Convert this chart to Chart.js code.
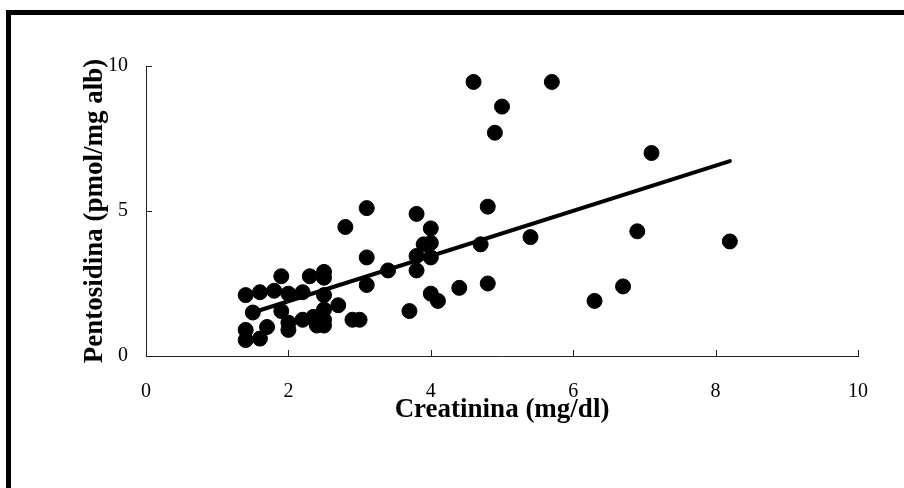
<!DOCTYPE html>
<html>
<head>
<meta charset="utf-8">
<script src="https://cdn.jsdelivr.net/npm/chart.js@4/dist/chart.umd.min.js"></script>
<style>
  html, body { margin: 0; padding: 0; background: #fff; overflow: hidden; }
  #frame { position: absolute; left: 6px; top: 10px; width: 1000px; height: 1000px; border: 5px solid #000; }
  #wrap { position: absolute; left: 0; top: 0; width: 904px; height: 488px; }
</style>
</head>
<body>
<div id="frame"></div>
<div id="wrap"><canvas id="chart" width="904" height="488"></canvas></div>
<script>
// creatinina (mg/dl) vs pentosidina (pmol/mg alb)
const creat = [1.4, 1.6, 1.5, 1.4, 1.4, 1.6, 1.7, 1.8, 1.9, 1.9, 2.0, 2.0, 2.0, 2.2, 2.2, 2.3, 2.35, 2.4,
  2.5, 2.5, 2.5, 2.5, 2.5, 2.5, 2.7, 2.8, 2.9, 3.0, 3.1, 3.1, 3.1, 3.4, 3.7, 3.8, 3.8, 3.8, 3.9, 4.0,
  4.0, 4.0, 4.0, 4.1, 4.4, 4.6, 4.7, 4.8, 4.8, 4.9, 5.0, 5.4, 5.7, 6.3, 6.7, 6.9, 7.1, 8.2];
const pento = [2.1, 2.2, 1.5, 0.9, 0.55, 0.6, 1.0, 2.25, 2.75, 1.55, 2.15, 1.15, 0.9, 2.2, 1.25, 2.75, 1.35, 1.05,
  2.9, 2.7, 2.1, 1.6, 1.25, 1.05, 1.75, 4.45, 1.25, 1.25, 5.1, 3.4, 2.45, 2.95, 1.55, 4.9, 3.45, 2.95, 3.85, 4.4,
  3.9, 3.4, 2.15, 1.9, 2.35, 9.45, 3.85, 5.15, 2.5, 7.7, 8.6, 4.1, 9.45, 1.9, 2.4, 4.3, 7.0, 3.95];
const trendX = [1.5, 8.2];
const trendY = [1.5, 6.72];
const xTicks = [0, 2, 4, 6, 8, 10];
const yTicks = [0, 5, 10];

const serif = '"Liberation Serif", "Times New Roman", serif';

const innerTicks = {
  id: 'innerTicks',
  afterDraw(chart) {
    const { ctx, scales: { x, y } } = chart;
    ctx.save();
    ctx.strokeStyle = '#222';
    ctx.lineWidth = 1;
    ctx.beginPath();
    xTicks.forEach((v) => {
      const px = Math.round(x.getPixelForValue(v)) + 0.5;
      ctx.moveTo(px, y.bottom);
      ctx.lineTo(px, y.bottom - 6);
    });
    yTicks.forEach((v) => {
      const py = Math.round(y.getPixelForValue(v)) + 0.5;
      ctx.moveTo(x.left, py);
      ctx.lineTo(x.left + 6, py);
    });
    ctx.stroke();
    ctx.restore();
  },
};

new Chart(document.getElementById('chart'), {
  type: 'scatter',
  data: {
    datasets: [
      {
        data: creat.map((c, i) => ({ x: c, y: pento[i] })),
        backgroundColor: '#000', borderColor: '#000', pointRadius: 7.5, pointBorderWidth: 1,
      },
      {
        type: 'line',
        data: trendX.map((c, i) => ({ x: c, y: trendY[i] })),
        borderColor: '#000', borderWidth: 4, pointRadius: 0, borderCapStyle: 'round', fill: false,
      },
    ],
  },
  options: {
    responsive: false,
    animation: false,
    layout: { padding: { left: 79, top: 66, right: 46, bottom: 62 } },
    plugins: { legend: { display: false }, tooltip: { enabled: false } },
    scales: {
      x: {
        type: 'linear', min: 0, max: 10,
        afterBuildTicks: (s) => { s.ticks = xTicks.map((v) => ({ value: v })); },
        afterFit: (s) => { s.height = 70; },
        grid: { display: false, drawTicks: false },
        border: { display: true, color: '#222', width: 1 },
        ticks: { padding: 24, color: '#000', font: { family: serif, size: 20 } },
        title: { display: true, text: 'Creatinina (mg/dl)', color: '#000', padding: 0, font: { family: serif, size: 27, weight: 'bold' } },
      },
      y: {
        type: 'linear', min: 0, max: 10,
        afterBuildTicks: (s) => { s.ticks = yTicks.map((v) => ({ value: v })); },
        afterFit: (s) => { s.width = 67; },
        grid: { display: false, drawTicks: false },
        border: { display: true, color: '#222', width: 1 },
        ticks: { padding: 18, color: '#000', font: { family: serif, size: 20 } },
        title: { display: true, text: 'Pentosidina (pmol/mg alb)', color: '#000', padding: 0, font: { family: serif, size: 27, weight: 'bold' } },
      },
    },
  },
  plugins: [innerTicks],
});
</script>
</body>
</html>
